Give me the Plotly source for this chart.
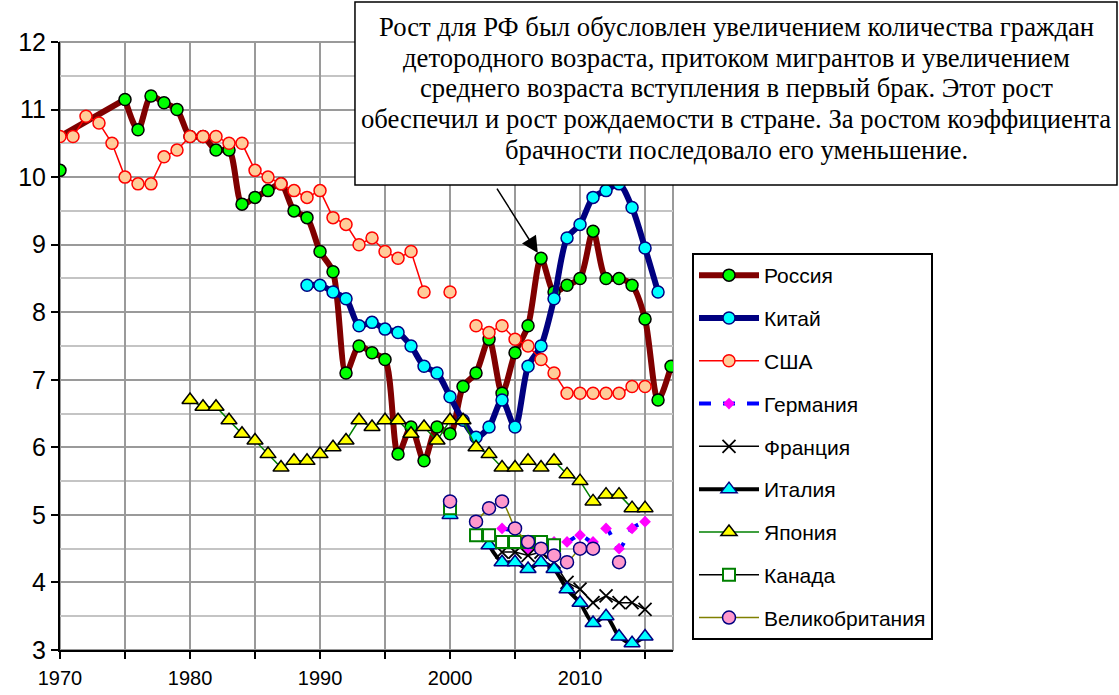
import plotly.graph_objects as go

# Коэффициент брачности (на 1000 человек), оценено по рисунку
russia_years = [1970, 1975, 1976, 1977, 1978, 1979, 1980, 1981, 1982, 1983, 1984, 1985, 1986, 1987, 1988,
                1989, 1990, 1991, 1992, 1993, 1994, 1995, 1996, 1997, 1998, 1999, 2000, 2001, 2002, 2003,
                2004, 2005, 2006, 2007, 2008, 2009, 2010, 2011, 2012, 2013, 2014, 2015, 2016, 2017]
russia = [10.6, 11.15, 10.7, 11.2, 11.1, 11.0, 10.6, 10.6, 10.4, 10.4, 9.6, 9.7, 9.8, 9.9, 9.5,
          9.4, 8.9, 8.6, 7.1, 7.5, 7.4, 7.3, 5.9, 6.3, 5.8, 6.3, 6.2, 6.9, 7.1, 7.6,
          6.8, 7.4, 7.8, 8.8, 8.3, 8.4, 8.5, 9.2, 8.5, 8.5, 8.4, 7.9, 6.7, 7.2]
russia_extra_years = [1970]
russia_extra = [10.1]

china_years = list(range(1989, 2017))
china = [8.4, 8.4, 8.3, 8.2, 7.8, 7.85, 7.75, 7.7, 7.5, 7.2, 7.1, 6.75, 6.4, 6.15, 6.3, 6.7,
         6.3, 7.2, 7.5, 8.2, 9.1, 9.3, 9.7, 9.8, 9.9, 9.55, 8.95, 8.3]

usa_years = list(range(1970, 2016))
usa = [10.6, 10.6, 10.9, 10.8, 10.5, 10.0, 9.9, 9.9, 10.3, 10.4, 10.6, 10.6, 10.6, 10.5, 10.5,
       10.1, 10.0, 9.9, 9.8, 9.7, 9.8, 9.4, 9.3, 9.0, 9.1, 8.9, 8.8, 8.9, 8.3, None, 8.3, None,
       7.8, 7.7, 7.8, 7.6, 7.5, 7.3, 7.1, 6.8, 6.8, 6.8, 6.8, 6.8, 6.9, 6.9]

germany_years = list(range(2004, 2016))
germany = [4.8, 4.75, 4.5, 4.55, 4.6, 4.6, 4.7, 4.6, 4.8, 4.5, 4.8, 4.9]

france_years = list(range(2004, 2016))
france = [4.45, 4.45, 4.4, 4.45, 4.3, 4.0, 3.9, 3.7, 3.8, 3.7, 3.7, 3.6]

italy_years = list(range(2000, 2016))
italy = [5.0, None, None, 4.55, 4.3, 4.3, 4.2, 4.3, 4.2, 3.9, 3.7, 3.4, 3.5, 3.2, 3.1, 3.2]

japan_years = list(range(1980, 2016))
japan = [6.7, 6.6, 6.6, 6.4, 6.2, 6.1, 5.9, 5.7, 5.8, 5.8, 5.9, 6.0, 6.1, 6.4, 6.3, 6.4, 6.4, 6.2,
         6.3, 6.1, 6.4, 6.4, 6.0, 5.9, 5.7, 5.7, 5.8, 5.7, 5.8, 5.6, 5.5, 5.2, 5.3, 5.3, 5.1, 5.1]

canada_years = list(range(2000, 2009))
canada = [5.1, None, 4.7, 4.7, 4.6, 4.6, 4.6, 4.6, 4.55]

uk_years = list(range(2000, 2014))
uk = [5.2, None, 4.9, 5.1, 5.2, 4.8, 4.6, 4.5, 4.4, 4.3, 4.5, 4.5, None, 4.3]

x_ticks = list(range(1970, 2016, 5))
x_ticktext = [str(v) if v % 10 == 0 else "" for v in x_ticks]

note_lines = ["Рост для РФ был обусловлен увеличением количества граждан",
              "детородного возраста, притоком мигрантов и увеличением",
              "среднего возраста вступления в первый брак. Этот рост",
              "обеспечил и рост рождаемости в стране. За ростом коэффициента",
              "брачности последовало его уменьшение."]

fig = go.Figure()

# Россия: прямой участок 1970-1975 и сглаженная линия дальше
fig.add_trace(go.Scatter(x=russia_years[:2], y=russia[:2], name="Россия", legendgroup="ru",
                         mode="lines", showlegend=False, hoverinfo="skip",
                         line=dict(color="#800000", width=6)))
fig.add_trace(go.Scatter(x=russia_years[1:], y=russia[1:], name="Россия", legendgroup="ru",
                         mode="lines+markers",
                         line=dict(color="#800000", width=6, shape="spline", smoothing=0.8),
                         marker=dict(symbol="circle", size=12, color="#00ff00",
                                     line=dict(color="black", width=1.5))))
fig.add_trace(go.Scatter(x=russia_extra_years, y=russia_extra, name="Россия", legendgroup="ru",
                         mode="markers", showlegend=False,
                         marker=dict(symbol="circle", size=12, color="#00ff00",
                                     line=dict(color="black", width=1.5))))
# Китай
fig.add_trace(go.Scatter(x=china_years, y=china, name="Китай", legendgroup="cn",
                         mode="lines+markers",
                         line=dict(color="#000080", width=6, shape="spline", smoothing=0.8),
                         marker=dict(symbol="circle", size=12, color="#00ffff",
                                     line=dict(color="#000080", width=1.5))))
# США
fig.add_trace(go.Scatter(x=usa_years, y=usa, name="США", legendgroup="us",
                         mode="lines+markers", connectgaps=False,
                         line=dict(color="#ff0000", width=1.5),
                         marker=dict(symbol="circle", size=12, color="#ffcc99",
                                     line=dict(color="#ff0000", width=1.5))))
# Германия
fig.add_trace(go.Scatter(x=germany_years, y=germany, name="Германия", legendgroup="de",
                         mode="lines+markers",
                         line=dict(color="#0000ff", width=4, dash="dash", shape="spline", smoothing=0.8),
                         marker=dict(symbol="diamond", size=9, color="#ff00ff")))
# Франция
fig.add_trace(go.Scatter(x=france_years, y=france, name="Франция", legendgroup="fr",
                         mode="lines+markers",
                         line=dict(color="black", width=1.5),
                         marker=dict(symbol="x-thin", size=13, color="black",
                                     line=dict(color="black", width=1.8))))
# Италия
fig.add_trace(go.Scatter(x=italy_years, y=italy, name="Италия", legendgroup="it",
                         mode="lines+markers", connectgaps=False,
                         line=dict(color="black", width=4, shape="spline", smoothing=0.8),
                         marker=dict(symbol="triangle-up", size=14, color="#00ffff",
                                     line=dict(color="#000080", width=1.5))))
# Япония
fig.add_trace(go.Scatter(x=japan_years, y=japan, name="Япония", legendgroup="jp",
                         mode="lines+markers",
                         line=dict(color="#008000", width=1.5),
                         marker=dict(symbol="triangle-up", size=14, color="#ffff00",
                                     line=dict(color="black", width=1.5))))
# Канада
fig.add_trace(go.Scatter(x=canada_years, y=canada, name="Канада", legendgroup="ca",
                         mode="lines+markers", connectgaps=False,
                         line=dict(color="black", width=1.5),
                         marker=dict(symbol="square", size=12, color="white",
                                     line=dict(color="#008000", width=2))))
# Великобритания
fig.add_trace(go.Scatter(x=uk_years, y=uk, name="Великобритания", legendgroup="uk",
                         mode="lines+markers", connectgaps=False,
                         line=dict(color="#808000", width=1.5, shape="spline", smoothing=0.6),
                         marker=dict(symbol="circle", size=13, color="#ff99cc",
                                     line=dict(color="#000080", width=1.5))))

fig.update_layout(
    width=1119, height=695,
    margin=dict(l=60, r=446, t=42, b=45),
    paper_bgcolor="white", plot_bgcolor="white",
    font=dict(family="Liberation Sans, Arial", color="black"),
    legend=dict(x=1.031, y=0.653, xanchor="left", yanchor="top",
                bgcolor="white", bordercolor="black", borderwidth=2,
                font=dict(size=21, family="Liberation Sans, Arial"),
                tracegroupgap=12.5, itemwidth=60),
    xaxis=dict(range=[1970, 2017.15], tickvals=x_ticks, ticktext=x_ticktext,
               ticks="outside", ticklen=7, tickwidth=2, tickcolor="black",
               showline=True, linecolor="black", linewidth=2,
               showgrid=True, gridcolor="#9a9a9a", gridwidth=2, automargin=False,
               zeroline=False, tickfont=dict(size=20), ticklabelstandoff=2),
    yaxis=dict(range=[3, 12], tick0=3, dtick=1,
               ticks="outside", ticklen=7, tickwidth=2, tickcolor="black",
               showline=True, linecolor="black", linewidth=2,
               showgrid=True, gridcolor="#9a9a9a", gridwidth=2, automargin=False,
               minor=dict(dtick=0.5, showgrid=True, gridcolor="#c4c4c4", gridwidth=2),
               zeroline=False, tickfont=dict(size=25)),
)

# рамка области построения
fig.add_shape(type="rect", xref="paper", yref="paper", x0=0, x1=1, y0=0, y1=1,
              line=dict(color="#9a9a9a", width=2), layer="below")

# белая рамка выноски поверх графика
fig.add_shape(type="rect", xref="paper", yref="paper", x0=0.4812, x1=1.7243, y0=0.7648, y1=1.0658,
              line=dict(color="black", width=1.5), fillcolor="white", layer="above")

# стрелка к пику 2007 г.
fig.add_annotation(x=2007, y=8.8, xref="x", yref="y", text="", showarrow=True,
                   ax=-45, ay=-71, axref="pixel", ayref="pixel",
                   arrowhead=2, arrowsize=2.2, arrowwidth=1.5, arrowcolor="black", standoff=6)

# текст выноски, построчно
line_y = [1.0247, 0.9737, 0.9243, 0.8734, 0.8224]
for txt, yy in zip(note_lines, line_y):
    fig.add_annotation(x=1.1028, y=yy, xref="paper", yref="paper", xanchor="center", yanchor="middle",
                       text=txt, showarrow=False,
                       font=dict(family="Liberation Serif, Times New Roman", size=26.7, color="black"))

# убираем поля страницы и панель инструментов
fig.write_html("out.html", config={"displayModeBar": False},
               post_script="document.body.style.margin='0';document.body.style.overflow='hidden';")
